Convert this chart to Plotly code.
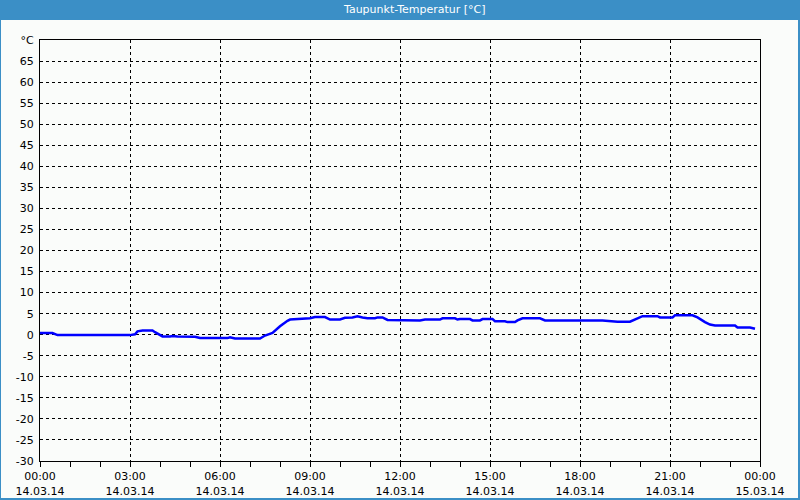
import plotly.graph_objects as go

# ---- data ----
times = ["00:00","00:25","00:35","01:00","01:05","01:50","01:55","02:05","02:30","02:35",
         "03:00","03:10","03:15","03:25","03:45","03:50","04:00","04:05","04:20","04:25",
         "04:35","05:10","05:20","06:15","06:20","06:30","07:20","07:30","07:45","08:00",
         "08:15","08:20","09:00","09:10","09:30","09:40","10:00","10:10","10:25","10:35",
         "10:45","10:55","11:10","11:15","11:25","11:35","12:40","12:50","13:20","13:25",
         "13:50","13:55","14:00","14:20","14:25","14:40","14:45","15:05","15:10","15:30",
         "15:35","15:50","15:55","16:05","16:40","16:50","18:45","19:15","19:40","19:50",
         "20:05","20:35","20:40","21:05","21:10","21:45","21:55","22:10","22:20","22:30",
         "23:10","23:15","23:40","23:50"]
values = [0.4,0.4,-0.1,-0.1,0.0,0.0,-0.1,0.0,0.0,-0.1,
          -0.1,0.1,0.8,1.0,1.0,0.6,-0.2,-0.4,-0.4,-0.3,
          -0.4,-0.5,-0.8,-0.8,-0.6,-0.9,-0.9,-0.2,0.4,2.0,
          3.3,3.6,3.9,4.2,4.2,3.6,3.6,4.0,4.1,4.4,
          4.1,3.9,3.9,4.1,4.1,3.5,3.4,3.6,3.6,3.9,
          3.9,3.6,3.7,3.7,3.4,3.4,3.7,3.7,3.2,3.2,
          3.0,3.0,3.4,3.9,3.9,3.4,3.4,3.1,3.1,3.6,
          4.4,4.4,4.1,4.1,4.6,4.6,4.1,3.0,2.4,2.2,
          2.2,1.7,1.7,1.4]
x_tick_vals = [0, 3, 6, 9, 12, 15, 18, 21, 24]
x_tick_text = ["00:00<br>14.03.14", "03:00<br>14.03.14", "06:00<br>14.03.14",
               "09:00<br>14.03.14", "12:00<br>14.03.14", "15:00<br>14.03.14",
               "18:00<br>14.03.14", "21:00<br>14.03.14", "00:00<br>15.03.14"]
y_tick_vals = list(range(-30, 75, 5))
y_tick_text = [str(v) for v in y_tick_vals[:-1]] + ["°C"]
title_text = "Taupunkt-Temperatur [°C]"

hours = [int(t[:2]) + int(t[3:]) / 60 for t in times]

BLUE = "#3b8fc6"
BG = "#fafcfa"
FONT = "DejaVu Sans"

fig = go.Figure()
fig.add_trace(go.Scatter(x=hours, y=values, mode="lines",
                         line=dict(color="#0000ff", width=2.5), hoverinfo="skip"))

# plot area: x 40..760 px, y 40..461 px
def px(xp):
    return (xp - 40) / 720
def py(yp):
    return (461 - yp) / 421

fig.update_layout(
    width=800, height=500,
    margin=dict(l=40, r=40, t=40, b=39, pad=0, autoexpand=False),
    paper_bgcolor=BLUE, plot_bgcolor=BG,
    showlegend=False,
    font=dict(family=FONT, size=11, color="black"),
    shapes=[
        dict(type="rect", xref="paper", yref="paper", x0=px(1), x1=px(798),
             y0=py(498), y1=py(20), fillcolor=BG, line=dict(width=0), layer="below"),
    ],
    annotations=[
        dict(text=title_text, xref="paper", yref="paper", x=px(414), y=py(10),
             showarrow=False, xanchor="center", yanchor="middle",
             font=dict(family=FONT, size=11, color="white")),
    ],
)
fig.update_xaxes(range=[0, 24], tickvals=x_tick_vals, ticktext=x_tick_text,
                 automargin=False,
                 showgrid=True, gridcolor="black", griddash="3px,3px", gridwidth=1,
                 showline=True, linecolor="black", linewidth=1, mirror=True,
                 ticks="outside", ticklen=5, tickcolor="black",
                 minor=dict(dtick=1, tick0=0, ticks="outside", ticklen=5, tickcolor="black", showgrid=False),
                 zeroline=False, tickfont=dict(size=11))
fig.update_yaxes(range=[-30, 70], tickvals=y_tick_vals, ticktext=y_tick_text,
                 automargin=False,
                 showgrid=True, gridcolor="black", griddash="3px,3px", gridwidth=1,
                 showline=True, linecolor="black", linewidth=1, mirror=True,
                 ticks="", zeroline=False, ticklabelstandoff=3, tickfont=dict(size=11))

fig.write_html("out.html", config={"displayModeBar": False},
               post_script="document.body.style.margin='0';document.body.style.overflow='hidden';")
